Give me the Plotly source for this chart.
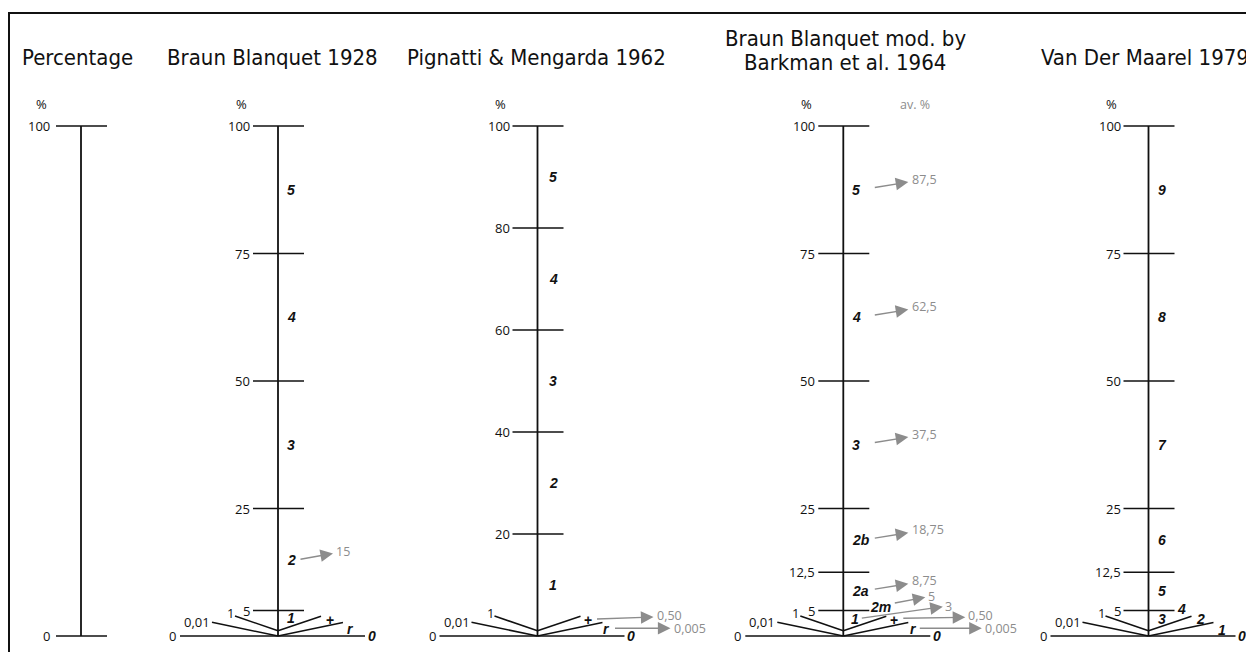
import plotly.graph_objects as go

# ---------------- data ----------------
titles = ["Percentage", "Braun Blanquet 1928", "Pignatti & Mengarda 1962",
          "Braun Blanquet mod. by", "Barkman et al. 1964", "Van Der Maarel 1979"]

perc_ticks = [0, 100]
perc_tick_labels = ["0", "100"]

bb_ticks = [5, 25, 50, 75, 100]
bb_tick_labels = ["5", "25", "50", "75", "100"]
bb_classes = ["5", "4", "3", "2"]
bb_class_mid = [87.5, 62.5, 37.5, 15]
bb_av_labels = ["", "", "", "15"]

pm_ticks = [20, 40, 60, 80, 100]
pm_tick_labels = ["20", "40", "60", "80", "100"]
pm_classes = ["5", "4", "3", "2", "1"]
pm_class_mid = [90, 70, 50, 30, 10]
pm_fan_av = ["0,50", "0,005"]          # for "+" and "r"

bk_ticks = [5, 12.5, 25, 50, 75, 100]
bk_tick_labels = ["5", "12,5", "25", "50", "75", "100"]
bk_classes = ["5", "4", "3", "2b", "2a"]
bk_class_mid = [87.5, 62.5, 37.5, 18.75, 8.75]
bk_av_labels = ["87,5", "62,5", "37,5", "18,75", "8,75"]
bk_small_classes = ["2m", "1", "+", "r"]
bk_small_av = ["5", "3", "0,50", "0,005"]

vm_ticks = [5, 12.5, 25, 50, 75, 100]
vm_tick_labels = ["5", "12,5", "25", "50", "75", "100"]
vm_classes = ["9", "8", "7", "6", "5"]
vm_class_mid = [87.5, 62.5, 37.5, 18.75, 8.75]
vm_fan_classes = ["4", "3", "2", "1", "0"]

fan_left_labels = ["0,01", "1"]

# ---------------- layout constants ----------------
W, H = 1254, 652
OFF = 8           # page body margin offset
PX = 5.1          # pixels per percent
Y0 = 636          # page pixel row of 0 %
YMAX = (Y0 - OFF) / PX
YMIN = (Y0 - OFF - H) / PX


def yp(px):
    """convert a page pixel row to the percent axis"""
    return (Y0 - px) / PX


PERC_X, BB_X, PM_X, BK_X, VM_X = 81, 278, 537.5, 843.3, 1148.5
BLACK = "#111111"
GRAY = "#8c8c8c"
TICK_FONT = dict(family="Open Sans, Liberation Sans, sans-serif", size=13, color=BLACK)
GRAY_FONT = dict(family="Open Sans, Liberation Sans, sans-serif", size=12.5, color=GRAY)
CLASS_FONT = dict(family="Liberation Sans, Arial, sans-serif", size=14, color=BLACK)
TITLE_FONT = dict(family="Liberation Sans Narrow, DejaVu Sans Condensed, sans-serif",
                  size=22, color=BLACK)

shapes = []
ann = []


def line(x0, y0, x1, y1, w=1.5, color=BLACK):
    shapes.append(dict(type="line", xref="x", yref="y", x0=x0, y0=y0, x1=x1, y1=y1,
                       line=dict(color=color, width=w)))


def text(x, y, t, font, xanchor="center", yanchor="middle"):
    ann.append(dict(x=x, y=y, xref="x", yref="y", text=t, showarrow=False,
                    font=font, xanchor=xanchor, yanchor=yanchor, borderpad=0))


def arrow(tx, ty, hx, hy):
    ann.append(dict(x=hx, y=hy, ax=tx, ay=ty, xref="x", yref="y", axref="x", ayref="y",
                    text="", showarrow=True, arrowhead=2, arrowsize=1.8, arrowwidth=1.4,
                    arrowcolor=GRAY, standoff=0, startstandoff=0))


def scale(cx, ticks, labels, label_dx=-27, pct_dx=-37):
    line(cx, 0, cx, 100, w=1.8)
    for v, lab in zip(ticks, labels):
        line(cx - 25, v, cx + 26, v)
        text(cx + label_dx, v, lab, TICK_FONT, xanchor="right")
    text(cx + pct_dx, yp(104), "%", TICK_FONT)


def fan(cx):
    # baseline
    line(cx - 98, 0, cx + 87, 0)
    text(cx - 101, 0, "0", TICK_FONT, xanchor="right")
    # left fan lines
    line(cx - 66, yp(622.3), cx, 0)
    line(cx - 43, yp(616), cx, yp(630.8))
    text(cx - 67, yp(621.5), fan_left_labels[0], TICK_FONT, xanchor="right")
    text(cx - 43, yp(613), fan_left_labels[1], TICK_FONT, xanchor="right")
    # right fan lines
    line(cx, yp(630.8), cx + 43, yp(616.3))
    line(cx, 0, cx + 65, yp(622.5))


def classes(cx, names, mids, dx=8):
    for n, m in zip(names, mids):
        text(cx + dx, m, "<b><i>%s</i></b>" % n, CLASS_FONT, xanchor="left")


# frame
shapes.append(dict(type="rect", xref="x", yref="y", x0=9, x1=W + 40, y0=yp(13), y1=YMIN - 10,
                   line=dict(color=BLACK, width=2)))

# titles
text(PERC_X - 4, yp(57), titles[0], TITLE_FONT)
text(272, yp(57), titles[1], TITLE_FONT)
text(536, yp(57), titles[2], TITLE_FONT)
text(845, yp(38), titles[3], TITLE_FONT)
text(845, yp(62), titles[4], TITLE_FONT)
text(1145, yp(57), titles[5], TITLE_FONT)

# ---- column 1: percentage
scale(PERC_X, perc_ticks, perc_tick_labels, label_dx=-30, pct_dx=-40)

# ---- column 2: Braun Blanquet 1928
scale(BB_X, bb_ticks, bb_tick_labels)
fan(BB_X)
classes(BB_X, bb_classes, bb_class_mid)
for m, av in zip(bb_class_mid, bb_av_labels):
    if av:
        arrow(BB_X + 21, m, BB_X + 55, m + 1.2)
        text(BB_X + 57, m + 1.6, av, GRAY_FONT, xanchor="left")
text(BB_X + 8, yp(618), "<b><i>1</i></b>", CLASS_FONT, xanchor="left")
text(BB_X + 52, yp(620), "<b>+</b>", CLASS_FONT)
text(BB_X + 72, yp(629), "<b><i>r</i></b>", CLASS_FONT)
text(BB_X + 89, 0, "<b><i>0</i></b>", CLASS_FONT, xanchor="left")

# ---- column 3: Pignatti & Mengarda 1962
scale(PM_X, pm_ticks, pm_tick_labels)
fan(PM_X)
classes(PM_X, pm_classes, pm_class_mid, dx=10)
text(PM_X + 50, yp(620), "<b>+</b>", CLASS_FONT)
text(PM_X + 69, yp(629), "<b><i>r</i></b>", CLASS_FONT)
text(PM_X + 88, 0, "<b><i>0</i></b>", CLASS_FONT, xanchor="left")
arrow(PM_X + 58, yp(619), PM_X + 116, yp(617))
text(PM_X + 118, yp(615.5), pm_fan_av[0], GRAY_FONT, xanchor="left")
arrow(PM_X + 76, yp(628.3), PM_X + 133, yp(628.3))
text(PM_X + 135, yp(628.5), pm_fan_av[1], GRAY_FONT, xanchor="left")

# ---- column 4: Barkman et al. 1964
scale(BK_X, bk_ticks, bk_tick_labels)
fan(BK_X)
classes(BK_X, bk_classes, bk_class_mid)
text(BK_X + 72, yp(104), "av. %", GRAY_FONT)
for m, av in zip(bk_class_mid, bk_av_labels):
    arrow(BK_X + 30, m + 0.4, BK_X + 65, m + 1.5)
    text(BK_X + 68, m + 2.1, av, GRAY_FONT, xanchor="left")
small_lab = [(BK_X + 37, yp(606.5)), (BK_X + 12, yp(619)), (BK_X + 51, yp(620)),
             (BK_X + 70, yp(629))]
small_arr = [((BK_X + 50, yp(603.3)), (BK_X + 82, yp(597.3))),
             ((BK_X + 17, yp(618.3)), (BK_X + 99.5, yp(606.7))),
             ((BK_X + 58.5, yp(618.3)), (BK_X + 122, yp(617.3))),
             ((BK_X + 75, yp(628.3)), (BK_X + 138.5, yp(628.3)))]
small_txt = [(BK_X + 84, yp(596)), (BK_X + 101, yp(606)), (BK_X + 124, yp(615.5)),
             (BK_X + 141, yp(628.5))]
for name, av, (lx, ly), (tail, head), (vx, vy) in zip(bk_small_classes, bk_small_av,
                                                       small_lab, small_arr, small_txt):
    lab = "<b>%s</b>" % name if name == "+" else "<b><i>%s</i></b>" % name
    text(lx, ly, lab, CLASS_FONT)
    arrow(tail[0], tail[1], head[0], head[1])
    text(vx, vy, av, GRAY_FONT, xanchor="left")
text(BK_X + 89, 0, "<b><i>0</i></b>", CLASS_FONT, xanchor="left")

# ---- column 5: Van Der Maarel 1979
scale(VM_X, vm_ticks, vm_tick_labels)
fan(VM_X)
classes(VM_X, vm_classes, vm_class_mid)
vm_pos = [(VM_X + 33, yp(609)), (VM_X + 13.5, yp(618.5)), (VM_X + 52, yp(618.5)),
          (VM_X + 73.5, yp(629.5)), (VM_X + 93, 0)]
for name, (px_, py_) in zip(vm_fan_classes, vm_pos):
    text(px_, py_, "<b><i>%s</i></b>" % name, CLASS_FONT)

fig = go.Figure()
fig.add_trace(go.Scatter(x=[OFF, OFF + W], y=[YMIN, YMAX], mode="markers",
                         marker=dict(opacity=0), hoverinfo="skip", showlegend=False))
fig.update_layout(
    width=W, height=H, autosize=False,
    margin=dict(l=0, r=0, t=0, b=0),
    paper_bgcolor="white", plot_bgcolor="white",
    xaxis=dict(range=[OFF, OFF + W], visible=False, fixedrange=True),
    yaxis=dict(range=[YMIN, YMAX], visible=False, fixedrange=True),
    shapes=shapes, annotations=ann, showlegend=False,
)
fig.write_html("out.html")
